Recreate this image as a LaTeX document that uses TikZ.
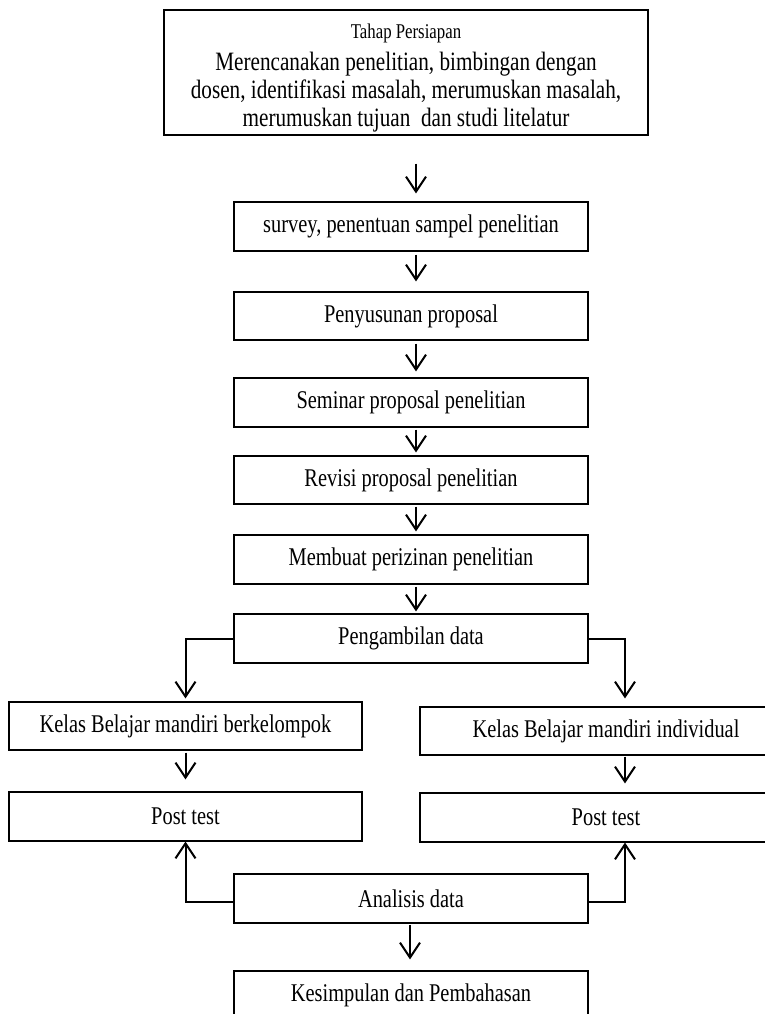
\documentclass[tikz,border=0pt]{standalone}
\usepackage{fontspec}
\setmainfont{Liberation Serif}[FakeStretch=0.8]
\usepackage{tikz}
\usetikzlibrary{arrows.meta,positioning}

\begin{document}
\begin{tikzpicture}[
  x=1pt,y=-1pt,
  box/.style={draw,line width=1.1pt,minimum height=49pt,inner sep=0pt,align=center,
    font=\fontsize{25.5}{28}\selectfont},
  arrow/.style={-{Straight Barb[length=15pt,width=20pt]},line width=2pt}
]
\useasboundingbox (0,0) rectangle (765,1014);
\clip (0,0) rectangle (765,1014);

\node[box,minimum width=484pt,minimum height=125pt,font=\fontsize{26.5}{28}\selectfont] (prep) at (406,72.5)
  {\rule{0pt}{26pt}{\fontsize{21}{20}\selectfont Tahap Persiapan}\\[4pt]
   Merencanakan penelitian, bimbingan dengan\\
   dosen, identifikasi masalah, merumuskan masalah,\\
   merumuskan tujuan\ \ dan studi litelatur};
\node[box,minimum width=354pt] (survey) at (411,226.5) {survey, penentuan sampel penelitian};
\node[box,minimum width=354pt,minimum height=48pt] (proposal) at (411,316) {Penyusunan proposal};
\node[box,minimum width=354pt] (seminar) at (411,402.5) {Seminar proposal penelitian};
\node[box,minimum width=354pt,minimum height=48pt] (revisi) at (411,480) {Revisi proposal penelitian};
\node[box,minimum width=354pt] (izin) at (411,559.5) {Membuat perizinan penelitian};
\node[box,minimum width=354pt] (ambil) at (411,638.5) {Pengambilan data};

\node[box,minimum width=353pt,minimum height=48pt] (kelompok) at (185.5,726) {Kelas Belajar mandiri berkelompok};
\node[box,minimum width=372pt,minimum height=48pt] (individu) at (606,731) {Kelas Belajar mandiri individual};
\node[box,minimum width=353pt] (postl) at (185.5,816.5) {Post test};
\node[box,minimum width=372pt] (postr) at (606,817.5) {Post test};

\node[box,minimum width=354pt] (analisis) at (411,898.5) {Analisis data};
\node[box,minimum width=354pt] (simpul) at (411,995.5) {Kesimpulan dan Pembahasan};

\draw[arrow,shorten <=28pt,shorten >=8pt] ([xshift=10pt]prep.south) -- ([xshift=5pt]survey.north);
\draw[arrow,shorten <=3pt,shorten >=10pt] ([xshift=5pt]survey.south) -- ([xshift=5pt]proposal.north);
\draw[arrow,shorten <=3pt,shorten >=6pt] ([xshift=5pt]proposal.south) -- ([xshift=5pt]seminar.north);
\draw[arrow,shorten <=2pt,shorten >=3pt] ([xshift=5pt]seminar.south) -- ([xshift=5pt]revisi.north);
\draw[arrow,shorten <=2pt,shorten >=3pt] ([xshift=5pt]revisi.south) -- ([xshift=5pt]izin.north);
\draw[arrow,shorten <=2pt,shorten >=2pt] ([xshift=5pt]izin.south) -- ([xshift=5pt]ambil.north);

\draw[arrow,shorten >=3pt] (ambil.west) -| (kelompok.north);
\draw[arrow,shorten >=8pt] (ambil.east) -| ([xshift=19pt]individu.north);
\draw[arrow,shorten <=2pt,shorten >=12pt] (kelompok.south) -- (postl.north);
\draw[arrow,shorten <=1pt,shorten >=9pt] ([xshift=19pt]individu.south) -- ([xshift=19pt]postr.north);

\draw[arrow] ([yshift=-3.5pt]analisis.west) -| (postl.south);
\draw[arrow] ([yshift=-3.5pt]analisis.east) -| ([xshift=19pt]postr.south);
\draw[arrow,shorten <=1pt,shorten >=11pt] ([xshift=-1pt]analisis.south) -- ([xshift=-1pt]simpul.north);
\end{tikzpicture}
\end{document}
